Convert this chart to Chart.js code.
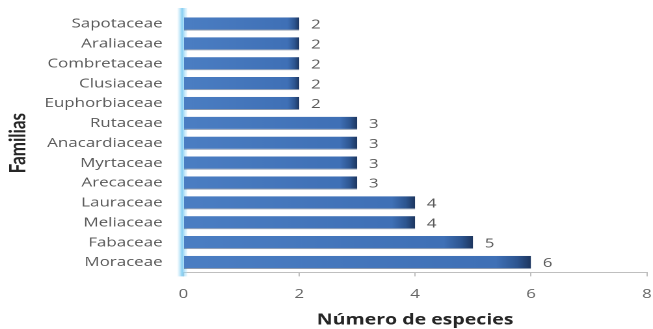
<!DOCTYPE html>
<html>
<head>
<meta charset="utf-8">
<script src="https://cdn.jsdelivr.net/npm/chart.js@4/dist/chart.umd.min.js"></script>
<style>
  html, body { margin: 0; padding: 0; background: #fff; overflow: hidden; width: 653px; height: 329px; }
  /* the chart is laid out narrow and stretched sideways */
  #wrap {
    width: 511px;
    height: 329px;
    position: relative;
    transform: scaleX(1.3008);
    transform-origin: 0 0;
  }
</style>
</head>
<body>
<div id="wrap"><canvas id="familias"></canvas></div>
<script>
const familias = [
    'Sapotaceae', 'Araliaceae', 'Combretaceae', 'Clusiaceae', 'Euphorbiaceae',
    'Rutaceae', 'Anacardiaceae', 'Myrtaceae', 'Arecaceae',
    'Lauraceae', 'Meliaceae', 'Fabaceae', 'Moraceae',
];
const especies = [2, 2, 2, 2, 2, 3, 3, 3, 3, 4, 4, 5, 6];
const xTicks = [0, 2, 4, 6, 8];

const textGray = '#595959';
const fontFamily = '"Open Sans", Lato, sans-serif';

// bar fill: flat blue that darkens at the end of each bar
const barFill = (context) => {
    const chart = context.chart;
    if (!chart.chartArea) {
        return '#3f6fb5';
    }
    const xScale = chart.scales.x;
    const x0 = xScale.getPixelForValue(0);
    const x1 = xScale.getPixelForValue(context.raw ?? 0);
    const grad = chart.ctx.createLinearGradient(x0, 0, x1, 0);
    grad.addColorStop(0, '#4b7ec3');
    grad.addColorStop(0.9, '#3f70b6');
    grad.addColorStop(0.96, '#2d5590');
    grad.addColorStop(1, '#1d365f');
    return grad;
};

// pale blue wall along the category axis
const wallPlugin = {
    id: 'wall',
    beforeDatasetsDraw(chart) {
        const { ctx, chartArea } = chart;
        const x = chartArea.left;
        ctx.save();
        const grad = ctx.createLinearGradient(x - 5, 0, x + 3, 0);
        grad.addColorStop(0, 'rgba(170, 225, 250, 0)');
        grad.addColorStop(0.5, 'rgba(120, 200, 240, 0.9)');
        grad.addColorStop(1, 'rgba(170, 225, 250, 0.2)');
        ctx.fillStyle = grad;
        ctx.fillRect(x - 5, chartArea.top - 6, 8, chartArea.bottom - chartArea.top + 10);
        ctx.restore();
    },
};

const valueLabels = {
    id: 'valueLabels',
    afterDatasetsDraw(chart) {
        const { ctx } = chart;
        const meta = chart.getDatasetMeta(0);
        ctx.save();
        ctx.font = `13px ${fontFamily}`;
        ctx.fillStyle = textGray;
        ctx.textAlign = 'left';
        ctx.textBaseline = 'middle';
        meta.data.forEach((bar, i) => {
            ctx.fillText(String(especies[i]), bar.x + 9, bar.y + 1);
        });
        ctx.restore();
    },
};

new Chart(document.getElementById('familias'), {
    type: 'bar',
    data: {
        labels: familias,
        datasets: [
            {
                data: especies,
                backgroundColor: barFill,
                borderColor: 'rgba(30, 55, 95, 0.5)',
                borderWidth: { top: 0, bottom: 1, left: 0, right: 0 },
                categoryPercentage: 1,
                barPercentage: 0.66,
            },
        ],
    },
    options: {
        indexAxis: 'y',
        responsive: true,
        maintainAspectRatio: false,
        animation: false,
        devicePixelRatio: 2,
        layout: { padding: { top: 14, left: 0, right: 0, bottom: 0 } },
        plugins: {
            legend: { display: false },
            tooltip: { enabled: false },
        },
        scales: {
            x: {
                min: 0,
                max: 8,
                afterBuildTicks: (scale) => {
                    scale.ticks = xTicks.map((value) => ({ value }));
                },
                grid: {
                    display: true,
                    drawOnChartArea: false,
                    drawTicks: true,
                    tickLength: 4,
                    color: '#bfbfbf',
                },
                border: { display: true, color: '#bfbfbf' },
                ticks: {
                    color: '#666666',
                    font: { family: fontFamily, size: 13 },
                    padding: 10,
                    maxRotation: 0,
                },
                title: {
                    display: true,
                    text: 'Número de especies',
                    color: '#262626',
                    font: { family: fontFamily, size: 15, weight: 'bold' },
                    padding: { top: -1, bottom: 0 },
                },
            },
            y: {
                afterFit: (scale) => {
                    scale.width = 141;
                    scale.paddingTop = 0;
                    scale.paddingBottom = 0;
                },
                grid: { display: false },
                border: { display: false },
                ticks: {
                    color: textGray,
                    font: { family: fontFamily, size: 13 },
                    padding: 8,
                },
                title: {
                    display: true,
                    text: 'Familias',
                    color: '#262626',
                    font: { family: '"Liberation Sans Narrow", Lato, sans-serif', size: 17, weight: 'bold' },
                    padding: { top: 4, bottom: 0 },
                },
            },
        },
    },
    plugins: [wallPlugin, valueLabels],
});
</script>
</body>
</html>
